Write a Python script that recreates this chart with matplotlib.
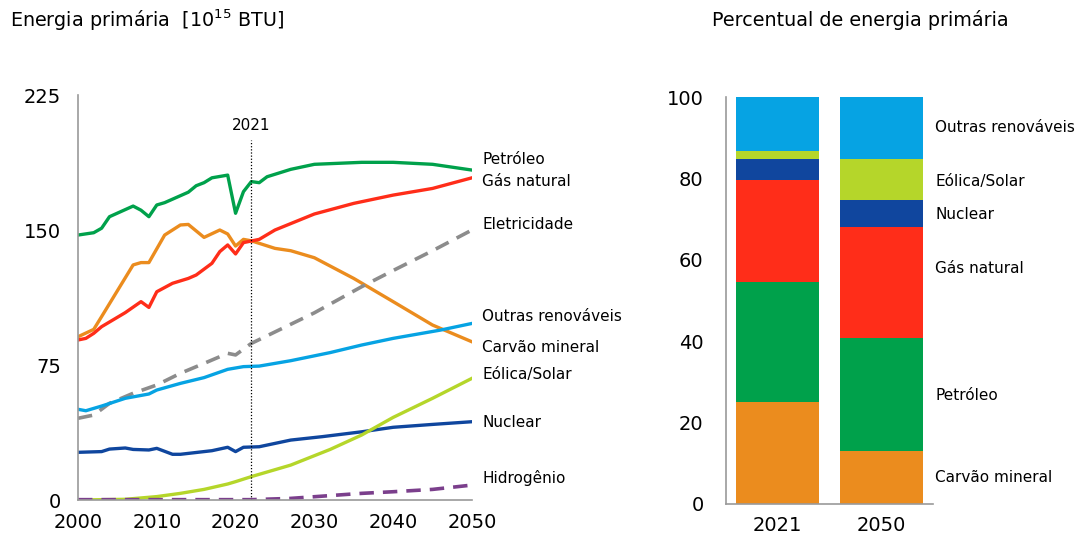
import matplotlib
matplotlib.use("Agg")
import matplotlib.pyplot as plt

plt.rcParams['font.family'] = ['DejaVu Sans']

# ---------------- data: left chart (10^15 BTU) ----------------
oil_years = [2000, 2002, 2003, 2004, 2007, 2008, 2009, 2010, 2011, 2014, 2015, 2016, 2017, 2019, 2020, 2021, 2022, 2023, 2024, 2027, 2030, 2036, 2040, 2045, 2050]
oil_vals  = [147.2, 148.5, 151, 157.4, 163.3, 161, 157.4, 163.9, 165.2, 171, 174.6, 176.3, 179, 180.5, 159.3, 171.3, 176.9, 176.3, 179.6, 183.7, 186.5, 187.6, 187.6, 186.5, 183.3]

coal_years = [2000, 2002, 2003, 2007, 2008, 2009, 2011, 2013, 2014, 2016, 2018, 2019, 2020, 2021, 2022, 2025, 2027, 2030, 2035, 2040, 2045, 2050]
coal_vals  = [90.7, 94.8, 101.9, 130.6, 131.9, 131.9, 147.2, 152.8, 153.1, 145.9, 150, 147.8, 141.1, 144.8, 144, 139.8, 138.5, 134.6, 123.1, 110.2, 97.2, 87.9]

gas_years = [2000, 2001, 2002, 2003, 2005, 2006, 2008, 2009, 2010, 2012, 2014, 2015, 2017, 2018, 2019, 2020, 2021, 2023, 2025, 2030, 2035, 2040, 2045, 2050]
gas_vals  = [88.9, 89.8, 92.6, 96.3, 101.5, 104.1, 110.2, 107, 115.7, 120.4, 123.1, 125, 131.5, 138, 141.7, 136.7, 143, 144.8, 150, 158.9, 164.8, 169.4, 173.1, 179]

elec_years = [2000, 2002, 2004, 2007, 2010, 2013, 2016, 2019, 2020, 2022, 2030, 2036, 2040, 2045, 2050]
elec_vals  = [45.4, 47.2, 53.7, 59.3, 63.9, 70.4, 75.9, 81.5, 80.6, 87, 104, 118.5, 127.5, 138.5, 150]

ren_years = [2000, 2001, 2003, 2006, 2009, 2010, 2013, 2016, 2019, 2021, 2023, 2027, 2032, 2036, 2040, 2046, 2050]
ren_vals  = [50.4, 49.6, 52.2, 56.5, 58.9, 61.1, 64.8, 68, 72.6, 74.1, 74.4, 77.4, 81.9, 86.1, 89.8, 94.4, 98.1]

nuc_years = [2000, 2003, 2004, 2006, 2007, 2009, 2010, 2012, 2013, 2017, 2019, 2020, 2021, 2023, 2027, 2031, 2036, 2040, 2045, 2050]
nuc_vals  = [26.5, 26.9, 28.3, 28.9, 28.1, 27.8, 28.7, 25.4, 25.4, 27.4, 29.3, 26.9, 29.3, 29.6, 33.3, 35.2, 37.9, 40.4, 42, 43.5]

ws_years = [2000, 2006, 2010, 2013, 2016, 2019, 2020, 2022, 2027, 2032, 2036, 2040, 2045, 2050]
ws_vals  = [0, 0.4, 1.9, 3.7, 5.9, 8.9, 10.2, 13, 19.4, 28.1, 36.1, 45.9, 56.5, 67.6]

h2_years = [2000, 2022, 2027, 2036, 2040, 2045, 2050]
h2_vals  = [0.2, 0.2, 0.9, 3.7, 4.6, 5.9, 8.3]

left_labels = ["Petróleo", "Gás natural", "Eletricidade", "Outras renováveis",
               "Carvão mineral", "Eólica/Solar", "Nuclear", "Hidrogênio"]
left_label_y = [189, 177, 153, 102, 85, 69.5, 43.3, 12.2]

# ---------------- data: right chart (%) ----------------
bar_cats = ["2021", "2050"]
bar_series = ["Carvão mineral", "Petróleo", "Gás natural", "Nuclear", "Eólica/Solar", "Outras renováveis"]
carvao_pct = [25.0, 13.0]
petroleo_pct = [29.7, 27.9]
gas_pct = [25.0, 27.2]
nuclear_pct = [5.1, 6.6]
eolica_pct = [2.0, 10.1]
outras_pct = [13.2, 15.2]
right_label_y = [6.4, 26.6, 58, 71.1, 79.4, 92.7]

# ---------------- colours ----------------
C_OIL = "#00A14B"
C_GAS = "#FF2D19"
C_COAL = "#EB8C1E"
C_NUC = "#0F469E"
C_REN = "#06A3E3"
C_WS = "#B5D62A"
C_ELEC = "#8C8C8C"
C_H2 = "#7B3F8C"
SPINE = "#9A9A9A"

fig = plt.figure(figsize=(10.8, 5.38), dpi=100)

# ---------------- left chart ----------------
ax = fig.add_axes([0.0722, 0.0706, 0.3648, 0.7528])
lw = 2.4
ax.plot(oil_years, oil_vals, color=C_OIL, lw=lw, solid_joinstyle='round')
ax.plot(coal_years, coal_vals, color=C_COAL, lw=lw, solid_joinstyle='round')
ax.plot(gas_years, gas_vals, color=C_GAS, lw=lw, solid_joinstyle='round')
ax.plot(elec_years, elec_vals, color=C_ELEC, lw=2.6, dashes=(4, 2.5))
ax.plot(ren_years, ren_vals, color=C_REN, lw=lw, solid_joinstyle='round')
ax.plot(nuc_years, nuc_vals, color=C_NUC, lw=lw, solid_joinstyle='round')
ax.plot(ws_years, ws_vals, color=C_WS, lw=lw, solid_joinstyle='round')
ax.plot(h2_years, h2_vals, color=C_H2, lw=2.6, dashes=(4, 2.5))

ax.axvline(2022, ymin=0, ymax=0.889, color="black", lw=0.9, ls=(0, (1, 1.5)))
ax.text(2022, 208, "2021", ha="center", va="center", fontsize=11)

ax.set_xlim(2000, 2050)
ax.set_ylim(0, 225)
ax.set_xticks([2000, 2010, 2020, 2030, 2040, 2050])
ax.set_yticks([0, 75, 150, 225])
ax.tick_params(length=0, labelsize=14)
ax.tick_params(axis='x', pad=9)
ax.tick_params(axis='y', pad=12)
for s in ["top", "right"]:
    ax.spines[s].set_visible(False)
for s in ["left", "bottom"]:
    ax.spines[s].set_color(SPINE)
    ax.spines[s].set_linewidth(1.2)

for lab, yv in zip(left_labels, left_label_y):
    ax.text(2051.3, yv, lab, ha="left", va="center", fontsize=11)

fig.text(0.009, 0.962, "Energia primária  $[10^{15}$ BTU$]$", ha="left", va="center", fontsize=13.8)

# ---------------- right chart ----------------
bx = fig.add_axes([0.672, 0.0632, 0.1922, 0.7559])
stack = [carvao_pct, petroleo_pct, gas_pct, nuclear_pct, eolica_pct, outras_pct]
colors = [C_COAL, "#00A14B", C_GAS, "#10469E", C_WS, C_REN]
bottom = [0.0, 0.0]
for vals, col in zip(stack, colors):
    bx.bar(bar_cats, vals, bottom=bottom, width=0.8, color=col)
    bottom = [b + v for b, v in zip(bottom, vals)]
bx.set_xlim(-0.5, 1.5)
bx.set_ylim(0, 100)
bx.set_yticks([0, 20, 40, 60, 80, 100])
bx.tick_params(length=0, labelsize=14)
bx.tick_params(axis='x', pad=9)
bx.tick_params(axis='y', pad=16)
for s in ["top", "right"]:
    bx.spines[s].set_visible(False)
for s in ["left", "bottom"]:
    bx.spines[s].set_color(SPINE)
    bx.spines[s].set_linewidth(1.2)
for lab, yv in zip(bar_series, right_label_y):
    bx.text(1.52, yv, lab, ha="left", va="center", fontsize=11)

fig.text(0.797, 0.962, "Percentual de energia primária", ha="center", va="center", fontsize=13.8)

fig.savefig("out.png", dpi=100)
